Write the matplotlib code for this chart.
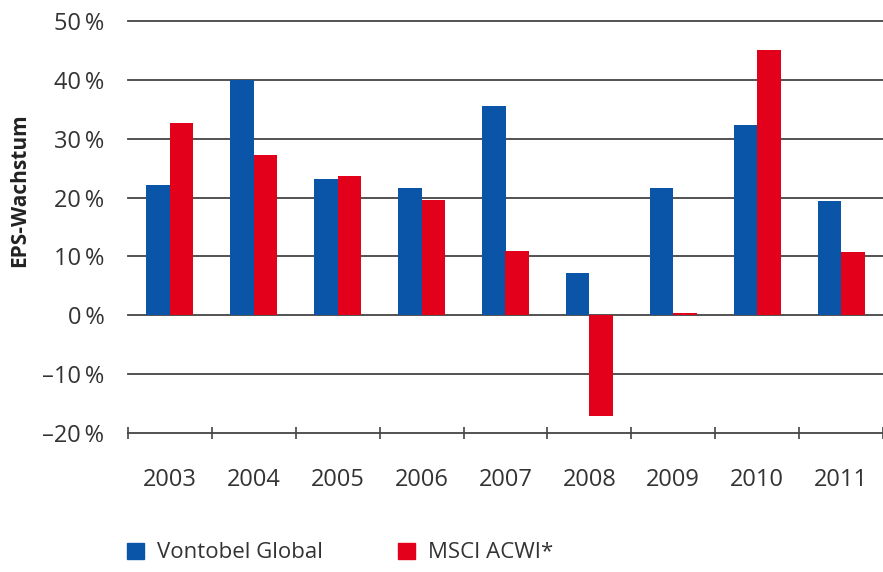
import matplotlib
matplotlib.use("Agg")
import matplotlib.pyplot as plt
from matplotlib.patches import Patch
import numpy as np

plt.rcParams['font.family'] = ['Open Sans', 'DejaVu Sans']

# Daten (EPS-Wachstum in %)
years = ['2003', '2004', '2005', '2006', '2007', '2008', '2009', '2010', '2011']
vontobel = [22.1, 39.9, 23.2, 21.7, 35.6, 7.1, 21.7, 32.3, 19.5]
msci = [32.6, 27.3, 23.6, 19.6, 10.9, -17.1, 0.4, 45.0, 10.8]
yticks = [-20, -10, 0, 10, 20, 30, 40, 50]
ytick_labels = ['\u201320\u2009%', '\u201310\u2009%', '0\u2009%', '10\u2009%',
                '20\u2009%', '30\u2009%', '40\u2009%', '50\u2009%']

blue = '#0a55a8'
red = '#e3001b'
text_col = '#333333'
line_col = '#444444'

fig = plt.figure(figsize=(8.83, 5.72), dpi=100)
ax = fig.add_axes([128 / 883, 1 - 433 / 572, 1 - 128 / 883, (433 - 21) / 572])

x = np.arange(len(years))
w = 0.28
ax.bar(x - w / 2, vontobel, w, color=blue, zorder=3)
ax.bar(x + w / 2, msci, w, color=red, zorder=3)

ax.set_ylim(-20, 50)
ax.set_xlim(-0.5, (883 - 128) / 85 - 0.5)

# horizontale Linien
for t in yticks:
    ax.axhline(t, color=line_col, lw=1.3, zorder=2, clip_on=False)

for s in ax.spines.values():
    s.set_visible(False)

ax.set_yticks(yticks)
ax.set_yticklabels(ytick_labels)
ax.tick_params(axis='y', length=0, pad=17, labelsize=17, labelcolor=text_col)

ax.set_xticks(x)
ax.set_xticklabels(years)
ax.tick_params(axis='x', which='major', length=0, pad=25, labelsize=17, labelcolor=text_col)
ax.set_xticks(np.arange(-0.5, len(years), 1), minor=True)
ax.tick_params(axis='x', which='minor', length=8, direction='inout', width=1.2, color=line_col)

fig.text(20 / 883, 1 - 190 / 572, 'EPS-Wachstum', rotation=90, ha='center', va='center',
         fontsize=15, fontweight='bold', color='#222222')

handles = [Patch(color=blue, label='Vontobel Global'), Patch(color=red, label='MSCI ACWI*')]
fig.legend(handles=handles, loc='center left', bbox_to_anchor=(107 / 883, 1 - 553 / 572),
           ncol=2, frameon=False, fontsize=16, handlelength=0.75, handleheight=0.75,
           handletextpad=0.6, columnspacing=3.4, labelcolor=text_col)

fig.savefig('out.png', dpi=100)
